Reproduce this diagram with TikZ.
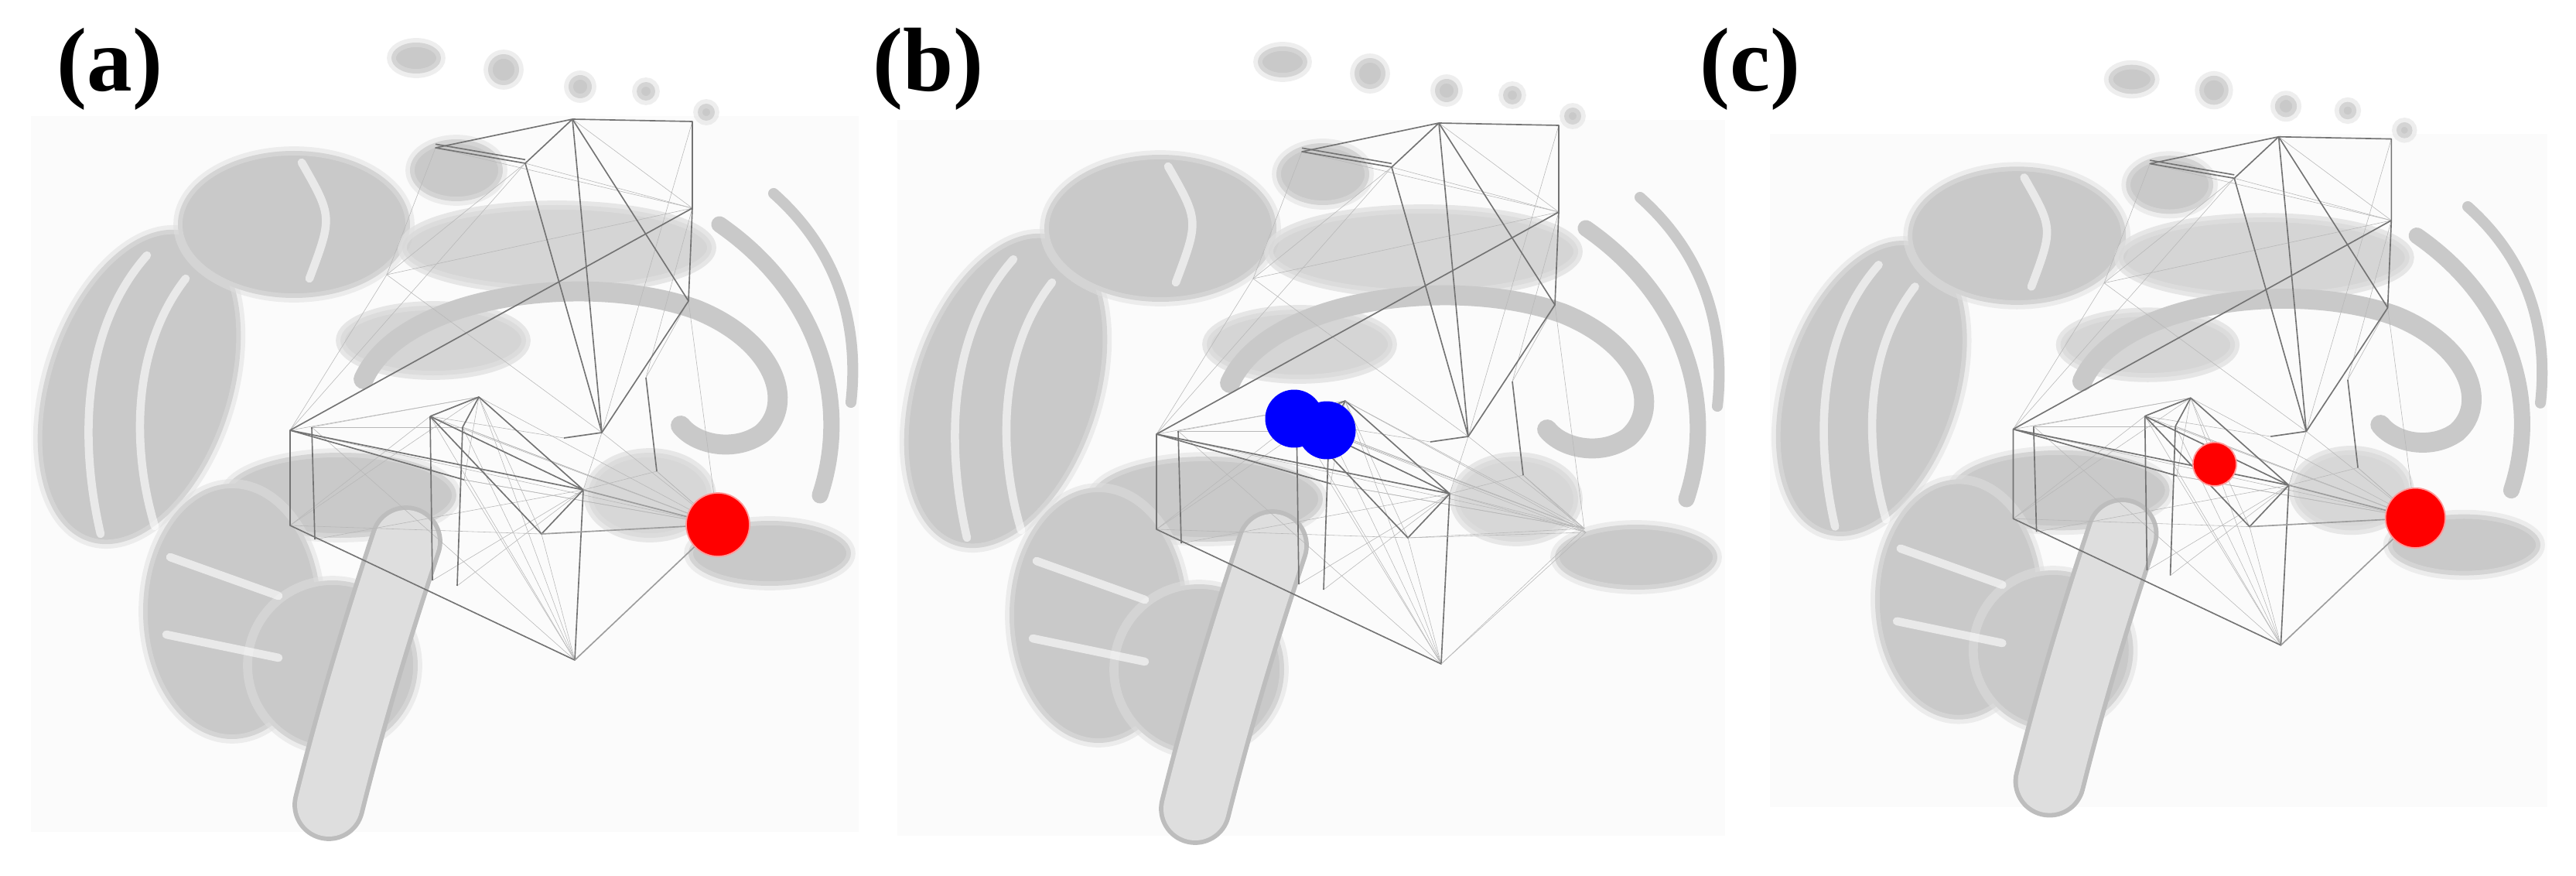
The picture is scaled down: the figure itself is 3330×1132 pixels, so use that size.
\documentclass[tikz,border=0pt]{standalone}
\usepackage{fontspec}
\setmainfont{Liberation Serif}
\begin{document}
\begin{tikzpicture}[x=0.03cm,y=-0.03cm,
  lbl/.style={font=\fontsize{100}{102}\selectfont\bfseries, inner sep=0},
  blob/.style={fill=brg, draw=brg!60, line width=10, draw opacity=0.5},
  sul/.style={draw=white, line width=9, line cap=round, opacity=0.6},
  thk/.style={draw=netd, line width=1.4pt, line join=round},
  thn/.style={draw=netl, line width=0.5pt},
  reddot/.style={circle, fill=red, draw=red!40, line width=1.5, inner sep=0, minimum size=#1},
  bluedot/.style={circle, fill=blue, inner sep=0, minimum size=#1}]
\definecolor{brg}{gray}{0.79}
\definecolor{brl}{gray}{0.87}
\definecolor{netd}{gray}{0.45}
\definecolor{netl}{gray}{0.72}
\useasboundingbox (0,0) rectangle (3330,1132);
\fill[white] (0,0) rectangle (3330,1132);
\newcommand\brainbg{%
 \fill[gray!3] (40,150) rectangle (1110,1075);
 \fill[blob,rotate around={-18:(180,500)}] (180,500) ellipse [x radius=120, y radius=210];
 \draw[sul] (190,330) .. controls (110,420) and (100,560) .. (130,690);
 \draw[sul] (240,360) .. controls (170,450) and (170,580) .. (200,680);
 \fill[blob] (380,290) ellipse [x radius=150, y radius=95];
 \draw[sul] (390,210) .. controls (430,280) .. (400,360);
 \fill[blob] (538,75) ellipse [x radius=32, y radius=20];
 \fill[blob] (651,90) circle (20);
 \fill[blob] (750,112) circle (15);
 \fill[blob] (835,118) circle (12);
 \fill[blob] (913,145) circle (11);
 \fill[blob] (590,220) ellipse [x radius=60, y radius=40];
 \fill[blob, opacity=0.75] (720,320) ellipse [x radius=200, y radius=55];
 \fill[blob, opacity=0.75] (560,440) ellipse [x radius=120, y radius=45];
 \draw[brg, line width=22, line cap=round] (470,490) .. controls (520,380) and (760,350) .. (900,400) .. controls (1000,440) and (1030,520) .. (985,560) .. controls (950,585) and (900,575) .. (880,550);
 \draw[brg, line width=18, line cap=round] (930,290) .. controls (1060,380) and (1100,520) .. (1060,640);
 \draw[brg, line width=12, line cap=round] (1000,250) .. controls (1090,330) and (1110,430) .. (1100,520);
 \fill[blob] (995,715) ellipse [x radius=105, y radius=42];
 \fill[blob, opacity=0.7] (840,640) ellipse [x radius=80, y radius=55];
 \fill[blob] (440,640) ellipse [x radius=150, y radius=55];
 \fill[blob] (300,790) ellipse [x radius=115, y radius=165];
 \fill[blob] (430,860) ellipse [x radius=110, y radius=110];
 \draw[sul] (220,720) -- (360,770);
 \draw[sul] (215,820) -- (360,850);
 \draw[brl!85!black, line width=80, line cap=round] (525,700) .. controls (475,850) and (445,960) .. (425,1040);
 \draw[brl, line width=70, line cap=round] (525,700) .. controls (475,850) and (445,960) .. (425,1040);
}
\newcommand\brainnet[1]{%
 \coordinate (T1) at (563,191); \coordinate (T2) at (740,154); \coordinate (T3) at (895,157);
 \coordinate (T4) at (679,211); \coordinate (T5) at (895,269); \coordinate (T6) at (890,389);
 \coordinate (M1) at (778,559); \coordinate (M2) at (729,566); \coordinate (P1) at (500,355);
 \coordinate (P2) at (835,488); \coordinate (P3) at (849,609);
 \coordinate (B1) at (375,556); \coordinate (B2) at (403,552); \coordinate (B3) at (375,679);
 \coordinate (B4) at (407,697); \coordinate (C1) at (556,538); \coordinate (C2) at (559,750);
 \coordinate (C3) at (598,552); \coordinate (C4) at (591,757); \coordinate (Tp) at (619,513);
 \coordinate (R1) at (754,633); \coordinate (R2) at (743,853); \coordinate (Rd) at (928,678);
 \coordinate (Q1) at (600,620); \coordinate (Q2) at (700,690);
 \foreach \a/\b in {B1/P1,P1/T4,P1/M1,P1/T5,B1/T4,T1/T5,T2/T5,T4/T5,T1/P1,T3/M1,T5/P2,T6/P2,
   B1/Tp,B2/Tp,B1/Q1,B3/C1,B3/Tp,B2/R2,B3/Q2,C1/R2,C3/R2,Tp/R2,R2/Q1,C1/Q2,Tp/Q2,
   P2/P3,P3/R1,M1/R1,T6/Rd,P3/Rd,R2/Q2,C2/R1,C4/R1,B4/R1,B2/C3,Q1/Tp,M2/C1,Rd/C3,Rd/B1,Rd/Q1}
   {\draw[thn] (\a) -- (\b);}
 \foreach \a in {R1,R2,C1,Tp,C3,Q2,P3,Q1,M1} {\draw[thn] (Rd) -- (\a);}
 \draw[thk] (T1) -- (T2) -- (T4) -- cycle;
 \draw[thk] ([yshift=4]T1) -- ([yshift=4]T4);
 \draw[thk] (T2) -- (T3) -- (T5) -- (T6) -- (M1) -- (M2);
 \draw[thk] (T2) -- (M1);
 \draw[thk] (T4) -- (M1);
 \draw[thk] (T2) -- (T6);
 \draw[thk] (T5) -- (B1);
 \draw[thk] (P2) -- (P3);
 \draw[thk] (B1) -- (B3) -- (R2) -- (R1) -- cycle;
 \draw[thk] (B2) -- (B4);
 \draw[thk] (C1) -- (C2);
 \draw[thk] (C3) -- (C4);
 \draw[thk] (C1) -- (Tp) -- (R1) -- (C1);
 \draw[thk] (C3) -- (Tp);
 \draw[thk] (C1) -- (Q2) -- (R1);
 \draw[thk] (B1) -- (Q1);
 #1
}
\begin{scope}
 \brainbg
 \brainnet{\foreach \a in {R1,R2,Q2} {\draw[thk,netd!70] (Rd) -- (\a);}}
 \node[reddot=70] (ra) at (Rd) {};
\end{scope}
\node[lbl] (la) at (142,89) {(a)};
\begin{scope}[shift={(1120,5)}]
 \brainbg
 \brainnet{\coordinate (Rx) at (930,683); \foreach \a in {R1,R2,Q2,C1,Tp,P3} {\draw[thn] (Rx) -- (\a);}}
 \node[bluedot=64] (b1) at (553,536) {};
 \node[bluedot=64] (b2) at (595,551) {};
\end{scope}
\node[lbl] (lb) at (1200,89) {(b)};
\begin{scope}[shift={(2250,32)}, scale=0.94]
 \brainbg
 \brainnet{\foreach \a in {R1,R2,Q2} {\draw[thk,netd!70] (Rd) -- (\a);}}
 \node[reddot=66] (rc) at (Rd) {};
 \node[reddot=48] (rc2) at (652,604) {};
\end{scope}
\node[lbl] (lc) at (2262,89) {(c)};
\end{tikzpicture}
\end{document}
